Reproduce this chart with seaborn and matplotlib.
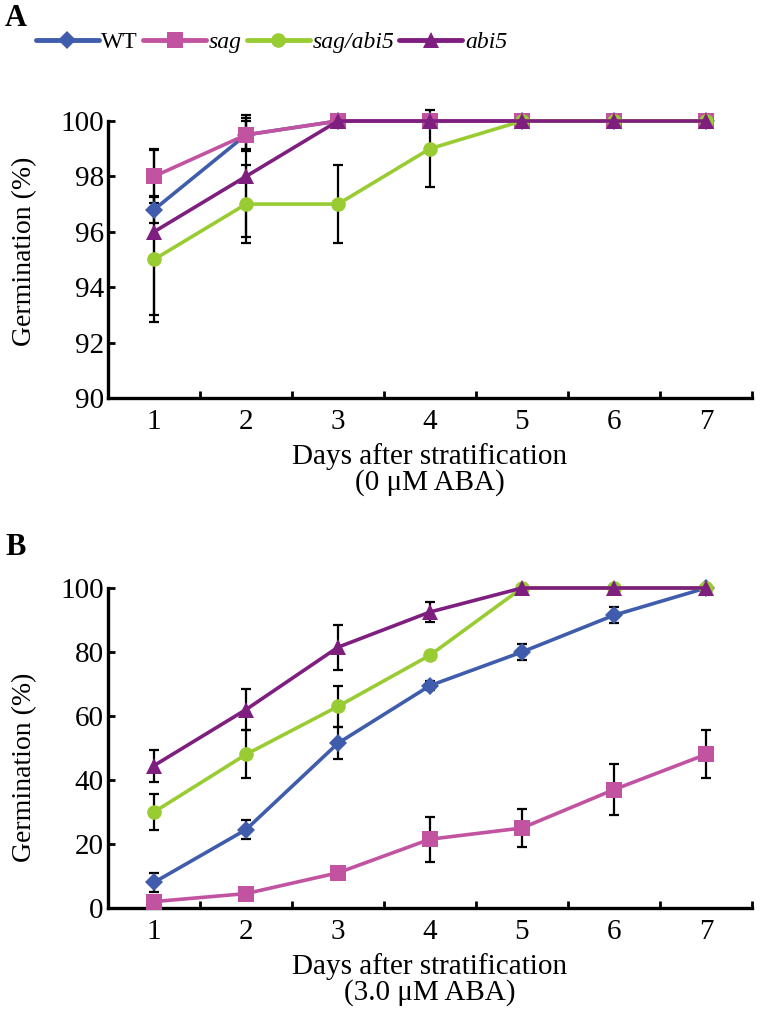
import numpy as np
import pandas as pd
import matplotlib
matplotlib.use("Agg")
import matplotlib.pyplot as plt
from matplotlib.lines import Line2D
from matplotlib.ticker import FixedLocator
import seaborn as sns

days = [1, 2, 3, 4, 5, 6, 7]
genotypes = ["WT", "sag", "sag/abi5", "abi5"]

# Panel A: 0 uM ABA
a_wt = [96.8, 99.5, 100, 100, 100, 100, 100]
a_sag = [98.0, 99.5, 100, 100, 100, 100, 100]
a_sagabi5 = [95.0, 97.0, 97.0, 99.0, 100, 100, 100]
a_abi5 = [96.0, 98.0, 100, 100, 100, 100, 100]
a_wt_err = [0.5, 0.5, 0, 0, 0, 0, 0]
a_sag_err = [0.95, 0.6, 0, 0, 0, 0, 0]
a_sagabi5_err = [2.25, 1.4, 1.4, 1.4, 0, 0, 0]
a_abi5_err = [3.0, 2.2, 0, 0, 0, 0, 0]

# Panel B: 3.0 uM ABA
b_wt = [8, 24.5, 51.5, 69.5, 80, 91.5, 100]
b_sag = [2, 4.5, 11, 21.5, 25, 37, 48]
b_sagabi5 = [30, 48, 63, 79, 100, 100, 100]
b_abi5 = [44.5, 62, 81.5, 92.5, 100, 100, 100]
b_wt_err = [3, 3, 5, 1.5, 2.5, 2.5, 0.5]
b_sag_err = [0, 0, 0, 7, 6, 8, 7.5]
b_sagabi5_err = [5.5, 7.5, 6.5, 0, 0, 0, 0]
b_abi5_err = [5, 6.5, 7, 3, 0, 0, 0]

colors = {"WT": "#3F5DAC", "sag": "#C253A0", "sag/abi5": "#99CC33", "abi5": "#7E1F80"}
markers = {"WT": "D", "sag": "s", "sag/abi5": "o", "abi5": "^"}
msizes = {"WT": 9.5, "sag": 11, "sag/abi5": 10.5, "abi5": 11}

sns.set_theme(style="ticks")
plt.rcParams["font.family"] = ["Liberation Serif", "DejaVu Serif"]
plt.rcParams["text.color"] = "black"
plt.rcParams["axes.labelcolor"] = "black"
plt.rcParams["xtick.color"] = "black"
plt.rcParams["ytick.color"] = "black"


def long_df(vals, errs):
    rows = []
    for g, v, e in zip(genotypes, vals, errs):
        for d, y, s in zip(days, v, e):
            rows.append({"Day": d, "Germination": y, "err": s, "Genotype": g})
    return pd.DataFrame(rows)


dfA = long_df([a_wt, a_sag, a_sagabi5, a_abi5], [a_wt_err, a_sag_err, a_sagabi5_err, a_abi5_err])
dfB = long_df([b_wt, b_sag, b_sagabi5, b_abi5], [b_wt_err, b_sag_err, b_sagabi5_err, b_abi5_err])

fig = plt.figure(figsize=(7.6, 10.24), dpi=100)
axA = fig.add_axes([108 / 760, 1 - 398 / 1024, 644 / 760, 277 / 1024])
axB = fig.add_axes([108 / 760, 1 - 908 / 1024, 644 / 760, 320 / 1024])


def draw(ax, df, ylim, yticks, xlabel, ylab_y):
    for g in genotypes:
        sub = df[df.Genotype == g]
        ax.errorbar(sub.Day, sub.Germination, yerr=sub.err, fmt="none",
                    ecolor="black", elinewidth=1.6, capsize=3.8, capthick=1.6,
                    zorder=1, clip_on=False)
    for g in genotypes:
        sub = df[df.Genotype == g]
        sns.lineplot(data=sub, x="Day", y="Germination", color=colors[g],
                     marker=markers[g], markersize=msizes[g], markeredgewidth=0,
                     linewidth=2.6, ax=ax, legend=False, errorbar=None,
                     zorder=3, clip_on=False)
    ax.set_xlim(0.5, 7.5)
    ax.set_ylim(*ylim)
    ax.set_yticks(yticks)
    ax.set_xticks(days)
    ax.xaxis.set_minor_locator(FixedLocator([1.5, 2.5, 3.5, 4.5, 5.5, 6.5, 7.5]))
    ax.tick_params(axis="x", which="major", length=0, labelsize=21, pad=8)
    ax.tick_params(axis="x", which="minor", direction="in", length=5, width=2)
    ax.tick_params(axis="y", direction="in", length=5, width=2, labelsize=21, pad=3)
    for side in ["top", "right"]:
        ax.spines[side].set_visible(False)
    for side in ["left", "bottom"]:
        ax.spines[side].set_linewidth(2.4)
        ax.spines[side].set_color("black")
    ax.set_xlabel(xlabel, fontsize=21, labelpad=6, linespacing=0.95)
    ax.set_ylabel("Germination (%)", fontsize=20)
    ax.yaxis.set_label_coords(-0.11, ylab_y)


draw(axA, dfA, (90, 100), [90, 92, 94, 96, 98, 100],
     "Days after stratification\n(0 \u03bcM ABA)", 0.53)
draw(axB, dfB, (0, 100), [0, 20, 40, 60, 80, 100],
     "Days after stratification\n(3.0 \u03bcM ABA)", 0.44)

handles = [Line2D([0], [0], color=colors[g], marker=markers[g], markersize=msizes[g],
                  markeredgewidth=0, linewidth=3.5) for g in genotypes]
leg = fig.legend(handles, genotypes, loc="center left", bbox_to_anchor=(36 / 760, 1 - 42 / 1024),
                 ncol=4, frameon=False, fontsize=17, handlelength=2.65, handletextpad=0.12,
                 columnspacing=0.22, borderpad=0, borderaxespad=0)
for t, g in zip(leg.get_texts(), genotypes):
    if g != "WT":
        t.set_style("italic")

fig.text(5 / 760, 1 - 4 / 1024, "A", fontsize=22, fontweight="bold", va="top", ha="left")
fig.text(5 / 760, 1 - 533 / 1024, "B", fontsize=22, fontweight="bold", va="top", ha="left")

fig.savefig("out.png", dpi=100)
